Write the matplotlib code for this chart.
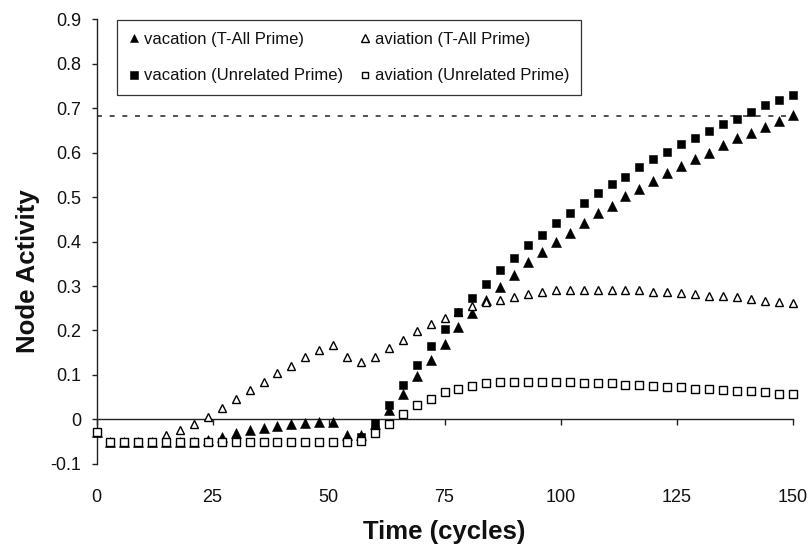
import matplotlib
matplotlib.use('Agg')
import matplotlib.pyplot as plt

plt.rcParams['font.family'] = ['Liberation Sans', 'DejaVu Sans']
plt.rcParams['axes.unicode_minus'] = False

# ---------------- data ----------------
time_cycles = list(range(0, 151, 3))

vacation_tall = [
    -0.028, -0.050, -0.050, -0.050, -0.050, -0.050, -0.050, -0.050, -0.047,
    -0.040, -0.031, -0.025, -0.019, -0.014, -0.010, -0.008, -0.006, -0.006,
    -0.036, -0.035, -0.010,
    0.020, 0.058, 0.097, 0.134, 0.170, 0.207, 0.239,
    0.269, 0.298, 0.325, 0.355, 0.377, 0.400, 0.420, 0.442, 0.464, 0.481,
    0.502, 0.518, 0.537, 0.554, 0.571, 0.585, 0.599, 0.617, 0.632, 0.645,
    0.658, 0.671, 0.685]

aviation_tall = [
    -0.028, -0.050, -0.050, -0.050, -0.050,
    -0.035, -0.024, -0.010, 0.005, 0.025, 0.045, 0.065, 0.083, 0.104, 0.121,
    0.141, 0.156, 0.167, 0.141, 0.130, 0.141,
    0.160, 0.179, 0.198, 0.215, 0.229, 0.242, 0.254, 0.264, 0.269, 0.275,
    0.281, 0.287, 0.290, 0.290, 0.290, 0.290, 0.290, 0.290, 0.290, 0.287,
    0.286, 0.285, 0.281, 0.278, 0.278, 0.276, 0.270, 0.267, 0.265, 0.261]

vacation_unrel = [
    -0.028,
    -0.050, -0.050, -0.050, -0.050, -0.050, -0.050, -0.050, -0.050, -0.050,
    -0.050, -0.050, -0.050, -0.050, -0.050, -0.050, -0.050, -0.050, -0.050,
    -0.040, -0.009, 0.032, 0.078, 0.122, 0.164, 0.203, 0.241,
    0.272, 0.304, 0.336, 0.362, 0.392, 0.415, 0.441, 0.465, 0.486, 0.509,
    0.529, 0.546, 0.567, 0.585, 0.602, 0.619, 0.634, 0.649, 0.664, 0.677,
    0.692, 0.707, 0.718, 0.731]

aviation_unrel = [
    -0.028,
    -0.050, -0.050, -0.050, -0.050, -0.050, -0.050, -0.050, -0.050, -0.050,
    -0.050, -0.050, -0.050, -0.050, -0.050, -0.050, -0.050, -0.050, -0.050,
    -0.048, -0.031,
    -0.011, 0.011, 0.032, 0.046, 0.061, 0.069, 0.075, 0.081, 0.084, 0.084,
    0.084, 0.084, 0.084, 0.084, 0.081, 0.081, 0.081, 0.078, 0.078, 0.076,
    0.072, 0.072, 0.069, 0.069, 0.067, 0.063, 0.063, 0.061, 0.058, 0.056]

threshold = 0.683

series_labels = ['vacation (T-All Prime)', 'aviation (T-All Prime)',
                 'vacation (Unrelated Prime)', 'aviation (Unrelated Prime)']

x_ticks = [0, 25, 50, 75, 100, 125, 150]
x_tick_labels = ['0', '25', '50', '75', '100', '125', '150']
y_ticks = [-0.1, 0.0, 0.1, 0.2, 0.3, 0.4, 0.5, 0.6, 0.7, 0.8, 0.9]
y_tick_labels = ['-0.1', '0', '0.1', '0.2', '0.3', '0.4', '0.5', '0.6',
                 '0.7', '0.8', '0.9']

# ---------------- figure ----------------
W, H = 808, 546
fig = plt.figure(figsize=(W / 100, H / 100), dpi=100)
ax = fig.add_axes([96.5 / W, 1 - 463.8 / H, 696 / W, 444.4 / H])
ax.set_xlim(0, 150)
ax.set_ylim(-0.1, 0.9)

axis_col = '#222222'
for s in ['top', 'right', 'bottom']:
    ax.spines[s].set_visible(False)
ax.spines['left'].set_color(axis_col)
ax.spines['left'].set_linewidth(1.0)

ax.set_yticks(y_ticks)
ax.set_yticklabels(y_tick_labels)
ax.tick_params(axis='y', direction='out', length=3.8, width=1.0,
               color=axis_col, labelsize=13, pad=7, labelcolor='#111111')

ax.set_xticks(x_ticks)
ax.set_xticklabels(x_tick_labels)
ax.tick_params(axis='x', length=0, labelsize=13, pad=18, labelcolor='#111111')

# axis line crossing at y = 0
ylo, yhi = ax.get_ylim()
sec = ax.secondary_xaxis((0 - ylo) / (yhi - ylo))
sec.set_xticks(x_ticks)
sec.tick_params(axis='x', direction='out', length=4.5, width=1.0,
                color=axis_col, labelbottom=False, labeltop=False)
for s in sec.spines.values():
    s.set_color(axis_col)
    s.set_linewidth(1.0)

# threshold dashed line
ax.hlines(threshold, time_cycles[0], time_cycles[-1], colors='#333333',
          linewidth=1.2, linestyles=(0, (3.0, 4.6)), zorder=1)

# series
h_vt, = ax.plot(time_cycles, vacation_tall, linestyle='none', marker='^',
                markersize=7.0, markerfacecolor='black',
                markeredgecolor='black', markeredgewidth=0.4, clip_on=False,
                zorder=3)
h_at, = ax.plot(time_cycles, aviation_tall, linestyle='none', marker='^',
                markersize=6.4, markerfacecolor='white',
                markeredgecolor='black', markeredgewidth=1.0, clip_on=False,
                zorder=3)
h_vu, = ax.plot(time_cycles, vacation_unrel, linestyle='none', marker='s',
                markersize=5.8, markerfacecolor='black',
                markeredgecolor='black', markeredgewidth=0.4, clip_on=False,
                zorder=3)
h_au, = ax.plot(time_cycles, aviation_unrel, linestyle='none', marker='s',
                markersize=5.4, markerfacecolor='white',
                markeredgecolor='black', markeredgewidth=1.0, clip_on=False,
                zorder=3)

ax.set_xlabel('Time (cycles)', fontsize=18.5, fontweight='bold', color='#111111')
ax.xaxis.set_label_coords(0.5, -(532 - 463.8) / 444.4)
ax.xaxis.label.set_va('center')
ax.set_ylabel('Node Activity', fontsize=18.5, fontweight='bold', color='#111111')
ax.yaxis.set_label_coords((28 - 96.5) / 696, (463.8 - 271) / 444.4)
ax.yaxis.label.set_va('center')

handles = [h_vt, h_vu, h_at, h_au]
labels = [series_labels[0], series_labels[2], series_labels[1], series_labels[3]]
leg = ax.legend(handles, labels, ncol=2, loc='upper left',
                bbox_to_anchor=((117.3 - 96.5) / 696, 1 - 0.7 / 444.4),
                borderaxespad=0, frameon=True, fancybox=False,
                edgecolor='#333333', facecolor='white', framealpha=1,
                fontsize=12, markerscale=0.9, handlelength=0.6,
                handletextpad=0.3, columnspacing=1.0, labelspacing=1.3,
                borderpad=0.7)
leg.get_frame().set_linewidth(0.9)
for t in leg.get_texts():
    t.set_color('#111111')

fig.savefig('out.png', dpi=100)
